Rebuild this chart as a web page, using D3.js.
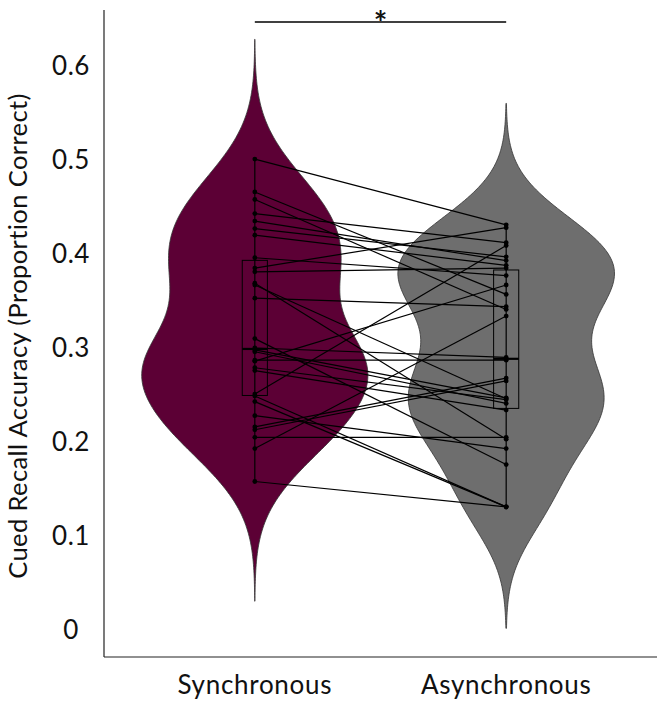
<!DOCTYPE html>
<html>
<head>
<meta charset="utf-8">
<script src="https://cdn.jsdelivr.net/npm/d3@7"></script>
<style>
  body { margin: 0; background: #fff; }
  svg text { font-family: Lato, "Open Sans", sans-serif; fill: #111; }
</style>
</head>
<body>
<svg id="chart" width="663" height="703"></svg>
<script>
const conditions = ['Synchronous', 'Asynchronous'];

// one value per participant, same order in both arrays (paired)
const synchronous = [0.501, 0.466, 0.458, 0.443, 0.435, 0.427, 0.420, 0.396, 0.385, 0.381,
  0.369, 0.367, 0.353, 0.310, 0.300, 0.298, 0.296, 0.287, 0.286, 0.279,
  0.276, 0.251, 0.249, 0.243, 0.228, 0.216, 0.213, 0.205, 0.193, 0.158];
const asynchronous = [0.431, 0.357, 0.341, 0.412, 0.393, 0.397, 0.388, 0.377, 0.428, 0.385,
  0.203, 0.246, 0.344, 0.176, 0.290, 0.247, 0.241, 0.287, 0.367, 0.245,
  0.234, 0.409, 0.131, 0.131, 0.193, 0.268, 0.265, 0.205, 0.334, 0.131];

const yTicks = [0, 0.1, 0.2, 0.3, 0.4, 0.5, 0.6];
const fills = ['#5c0035', '#6e6e6e'];

const svg = d3.select('#chart');
const plotLeft = 104, plotRight = 657, plotTop = 10, plotBottom = 657;

const x = d3.scalePoint().domain(conditions).range([plotLeft, plotRight]).padding(0.6);
const y = d3.scaleLinear().domain([0, 0.6]).range([630, 66]);

const groups = [synchronous, asynchronous];

// gaussian kde with bw.nrd0, extended 3 bandwidths past the data
function kde(values) {
  const sorted = values.slice().sort(d3.ascending);
  const iqr = d3.quantile(sorted, 0.75) - d3.quantile(sorted, 0.25);
  const bw = 0.9 * Math.min(d3.deviation(values), iqr / 1.34) * Math.pow(values.length, -0.2);
  const lo = d3.min(values) - 3 * bw, hi = d3.max(values) + 3 * bw;
  const grid = d3.range(0, 201).map((i) => lo + (hi - lo) * i / 200);
  return grid.map((v) => ({
    v,
    d: d3.mean(values, (s) => Math.exp(-0.5 * ((v - s) / bw) ** 2)) / (bw * Math.sqrt(2 * Math.PI)),
  }));
}

const densities = groups.map(kde);
const maxD = d3.max(densities.flat(), (p) => p.d);
const halfWidth = d3.scaleLinear().domain([0, maxD]).range([0, x.step() * 0.45]);

densities.forEach((dens, i) => {
  const cx = x(conditions[i]);
  const area = d3.area()
    .y((p) => y(p.v))
    .x0((p) => cx - halfWidth(p.d))
    .x1((p) => cx + halfWidth(p.d))
    .curve(d3.curveBasis);
  svg.append('path')
    .attr('d', area(dens))
    .attr('fill', fills[i])
    .attr('stroke', '#333')
    .attr('stroke-width', 0.8);
});

// paired lines
synchronous.forEach((s, k) => {
  svg.append('line')
    .attr('x1', x(conditions[0])).attr('y1', y(s))
    .attr('x2', x(conditions[1])).attr('y2', y(asynchronous[k]))
    .attr('stroke', '#000')
    .attr('stroke-width', 1.2);
});

// boxplots
const boxW = x.step() * 0.1;
groups.forEach((vals, i) => {
  const cx = x(conditions[i]);
  const sorted = vals.slice().sort(d3.ascending);
  const q1 = d3.quantile(sorted, 0.25), med = d3.quantile(sorted, 0.5), q3 = d3.quantile(sorted, 0.75);
  const iqr = q3 - q1;
  const lo = d3.min(sorted.filter((v) => v >= q1 - 1.5 * iqr));
  const hi = d3.max(sorted.filter((v) => v <= q3 + 1.5 * iqr));
  svg.append('line')
    .attr('x1', cx).attr('x2', cx)
    .attr('y1', y(hi)).attr('y2', y(lo))
    .attr('stroke', '#000').attr('stroke-width', 1.2);
  svg.append('rect')
    .attr('x', cx - boxW / 2).attr('width', boxW)
    .attr('y', y(q3)).attr('height', y(q1) - y(q3))
    .attr('fill', 'none').attr('stroke', '#000').attr('stroke-width', 1);
  svg.append('line')
    .attr('x1', cx - boxW / 2).attr('x2', cx + boxW / 2)
    .attr('y1', y(med)).attr('y2', y(med))
    .attr('stroke', '#000').attr('stroke-width', 2.2);
  svg.selectAll(null)
    .data(vals)
    .join('circle')
    .attr('cx', cx)
    .attr('cy', (d) => y(d))
    .attr('r', 2.4)
    .attr('fill', '#000');
});

// axes
svg.append('line')
  .attr('x1', plotLeft).attr('x2', plotLeft).attr('y1', plotTop).attr('y2', plotBottom)
  .attr('stroke', '#222').attr('stroke-width', 1.2);
svg.append('line')
  .attr('x1', plotLeft).attr('x2', plotRight).attr('y1', plotBottom).attr('y2', plotBottom)
  .attr('stroke', '#222').attr('stroke-width', 1.2);

svg.selectAll('.ytick')
  .data(yTicks)
  .join('text')
  .attr('class', 'ytick')
  .attr('x', 71)
  .attr('y', (d) => y(d))
  .attr('dy', '0.36em')
  .attr('text-anchor', 'middle')
  .attr('font-size', 26)
  .attr('letter-spacing', 0.5)
  .text((d) => d === 0 ? '0' : d3.format('.1f')(d));

svg.selectAll('.xlabel')
  .data(conditions)
  .join('text')
  .attr('class', 'xlabel')
  .attr('x', (d) => x(d))
  .attr('y', 694)
  .attr('text-anchor', 'middle')
  .attr('font-size', 26)
  .attr('letter-spacing', 0.7)
  .text((d) => d);

svg.append('text')
  .attr('transform', 'translate(27,336) rotate(-90)')
  .attr('text-anchor', 'middle')
  .attr('font-size', 25.5)
  .attr('letter-spacing', 0.4)
  .text('Cued Recall Accuracy (Proportion Correct)');

// significance bracket
svg.append('line')
  .attr('x1', x(conditions[0])).attr('x2', x(conditions[1]))
  .attr('y1', 22).attr('y2', 22)
  .attr('stroke', '#000').attr('stroke-width', 1.3);
svg.append('text')
  .attr('x', (x(conditions[0]) + x(conditions[1])) / 2)
  .attr('y', 35)
  .attr('text-anchor', 'middle')
  .attr('font-size', 32)
  .attr('font-weight', 'bold')
  .text('*');
</script>
</body>
</html>
